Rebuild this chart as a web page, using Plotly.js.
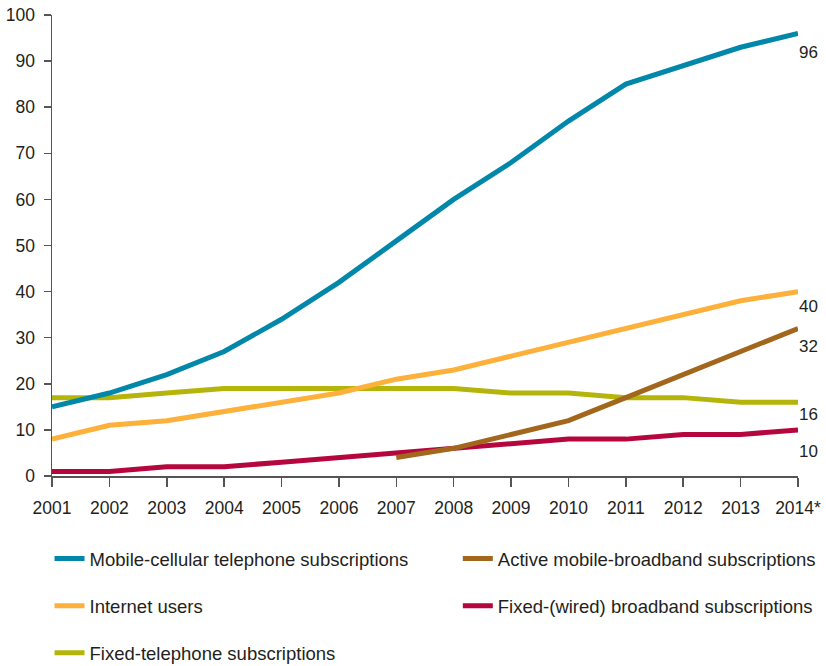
<!DOCTYPE html>
<html>
<head>
<meta charset="utf-8">
<script src="https://cdn.plot.ly/plotly-3.0.1.min.js"></script>
<style>html,body{margin:0;padding:0;background:#fff;}#chart{width:826px;height:666px;}</style>
</head>
<body>
<div id="chart"></div>
<script>
const years = ["2001","2002","2003","2004","2005","2006","2007","2008","2009","2010","2011","2012","2013","2014*"];
const mobileCellular = [15,18,22,27,34,42,51,60,68,77,85,89,93,96];
const internetUsers = [8,11,12,14,16,18,21,23,26,29,32,35,38,40];
const fixedTelephone = [17,17,18,19,19,19,19,19,18,18,17,17,16,16];
const activeMobileBroadband = [null,null,null,null,null,null,4,6,9,12,17,22,27,32];
const fixedBroadband = [1,1,2,2,3,4,5,6,7,8,8,9,9,10];

const names = {
  mobile: "Mobile-cellular telephone subscriptions",
  internet: "Internet users",
  fixedTel: "Fixed-telephone subscriptions",
  active: "Active mobile-broadband subscriptions",
  fixedBb: "Fixed-(wired) broadband subscriptions"
};
const colors = {
  mobile: "#0087A9",
  internet: "#FDB03A",
  fixedTel: "#B5B40B",
  active: "#A2661C",
  fixedBb: "#B5073D"
};

const FONT = "Liberation Sans, Arial, sans-serif";
const TXT = "#231F20";

function tr(y, key, legend, rank) {
  return {
    x: years, y: y, type: "scatter", mode: "lines", name: names[key],
    line: {color: colors[key], width: 5},
    legend: legend, legendgroup: key, legendrank: rank,
    connectgaps: false, hoverinfo: "skip"
  };
}

const data = [
  tr(fixedTelephone, "fixedTel", "legend", 3),
  tr(fixedBroadband, "fixedBb", "legend2", 2),
  tr(activeMobileBroadband, "active", "legend2", 1),
  tr(internetUsers, "internet", "legend", 2),
  tr(mobileCellular, "mobile", "legend", 1)
];

const last = years.length - 1;
const endLabels = [
  {v: mobileCellular[last], dy: -19},
  {v: internetUsers[last], dy: -15},
  {v: activeMobileBroadband[last], dy: -18},
  {v: fixedTelephone[last], dy: -12},
  {v: fixedBroadband[last], dy: -22}
];
const annotations = endLabels.map(l => ({
  x: years[last], y: l.v, xref: "x", yref: "y", text: String(l.v),
  showarrow: false, xanchor: "left", yanchor: "middle", xshift: -1, yshift: l.dy,
  font: {family: FONT, size: 17, color: TXT}
}));

const legendCommon = {
  orientation: "v", traceorder: "grouped", tracegroupgap: 20,
  font: {family: FONT, size: 18.5, color: TXT},
  bgcolor: "rgba(0,0,0,0)", yanchor: "top", xanchor: "left", itemclick: false
};

const layout = {
  width: 826, height: 666,
  margin: {l: 52, r: 28, t: 15, b: 190, autoexpand: false},
  paper_bgcolor: "#fff", plot_bgcolor: "#fff",
  font: {family: FONT, color: TXT},
  showlegend: true,
  legend: Object.assign({x: -0.0033, y: -0.139}, legendCommon),
  legend2: Object.assign({x: 0.544, y: -0.139}, legendCommon),
  xaxis: {
    type: "category", range: [0, last], showgrid: false, zeroline: false,
    showline: true, linecolor: "#555", linewidth: 1.5,
    ticks: "outside", ticklen: 9, tickwidth: 1.5, tickcolor: "#555",
    tickfont: {family: FONT, size: 17.5, color: TXT}, ticklabelstandoff: 6
  },
  yaxis: {
    range: [0, 100], dtick: 10, showgrid: false, zeroline: false,
    showline: true, linecolor: "#555", linewidth: 1.5,
    ticks: "outside", ticklen: 7, tickwidth: 1.5, tickcolor: "#555",
    tickfont: {family: FONT, size: 17.5, color: TXT}, ticklabelstandoff: 5
  },
  annotations: annotations
};

Plotly.newPlot("chart", data, layout, {staticPlot: true, displayModeBar: false});
</script>
</body>
</html>
